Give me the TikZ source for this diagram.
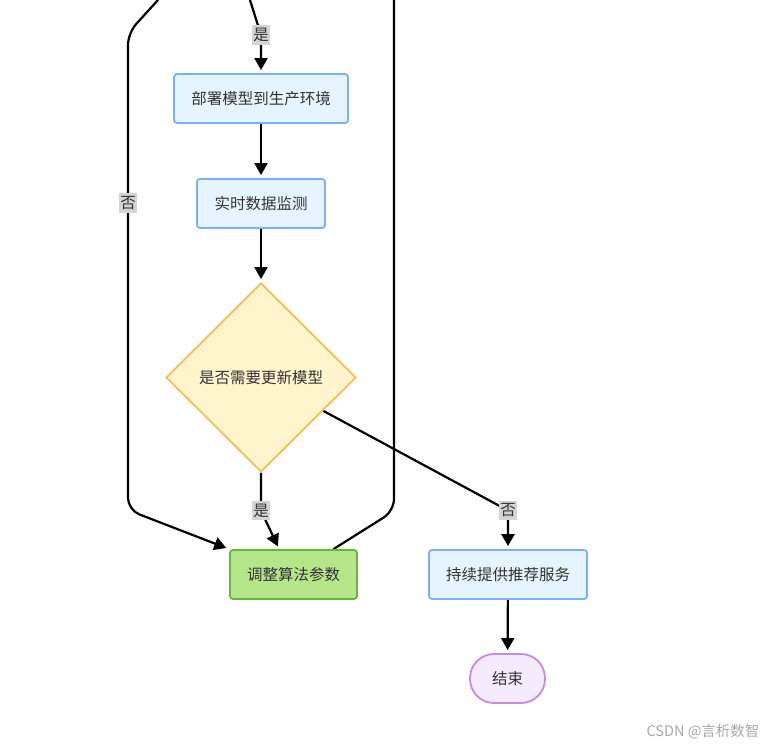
\documentclass[tikz,border=0pt]{standalone}
\usepackage{fontspec}
\setmainfont{Noto Sans CJK SC}
\usetikzlibrary{shapes.geometric,arrows.meta,calc,backgrounds}
\definecolor{txt}{HTML}{333333}
\definecolor{bluefill}{HTML}{E6F4FF}
\definecolor{bluedraw}{HTML}{7DAEF8}
\definecolor{yelfill}{HTML}{FFF4CC}
\definecolor{yeldraw}{HTML}{F7BE55}
\definecolor{grnfill}{HTML}{B5E68A}
\definecolor{grndraw}{HTML}{6BB33C}
\definecolor{purfill}{HTML}{F5EBFF}
\definecolor{purdraw}{HTML}{C28BE8}
\definecolor{lblgray}{HTML}{D4D4D4}
\definecolor{wmgray}{HTML}{A8A8A8}
\begin{document}
\begin{tikzpicture}[x=1pt,y=-1pt,
  every node/.style={font=\fontsize{15.5}{18}\selectfont, text=txt},
  proc/.style={draw=bluedraw, fill=bluefill, line width=1.8pt, rounded corners=3pt, minimum height=49pt, inner sep=0pt},
  adjbox/.style={draw=grndraw, fill=grnfill, line width=1.8pt, rounded corners=3pt, minimum height=49pt, inner sep=0pt},
  decbox/.style={diamond, aspect=1, draw=yeldraw, fill=yelfill, line width=1.8pt, minimum width=190pt, minimum height=189pt, inner sep=0pt},
  endbox/.style={draw=purdraw, fill=purfill, line width=1.8pt, rounded corners=24pt, minimum height=49pt, minimum width=75pt, inner sep=0pt},
  lbl/.style={fill=lblgray, inner xsep=0.8pt, inner ysep=3pt},
  conn/.style={line width=2.2pt, black},
  arr/.style={conn, -{Triangle[length=12pt,width=13pt]}, shorten >=3pt}
]
\useasboundingbox (0,0) rectangle (772,746);
\coordinate (t1) at (250,0);
\coordinate (t2) at (158,0);
\coordinate (t3) at (394,0);
\node[proc, minimum width=174pt] (deploy) at (261,98.5) {部署模型到生产环境};
\node[proc, minimum width=128pt] (mon) at (261,203.5) {实时数据监测};
\node[decbox] (dec) at (261,377.5) {是否需要更新模型};
\node[adjbox, minimum width=127pt] (adj) at (293.5,574.5) {调整算法参数};
\node[proc, minimum width=158pt] (cont) at (508,574.5) {持续提供推荐服务};
\node[endbox] (end) at (507.5,678.5) {结束};
\node[lbl] (ly1) at (261,35) {是};
\node[lbl] (ln1) at (128,203) {否};
\node[lbl] (ly2) at (261,510.5) {是};
\node[lbl] (ln2) at (508,510.5) {否};
\node[font=\fontsize{14.5}{16}\selectfont, text=wmgray] (wm) at (703,732) {CSDN @言析数智};
\begin{scope}[on background layer]
\draw[arr] (t1) -- (ly1.center) -- (deploy.north);
\draw[arr] (deploy) -- (mon);
\draw[arr] (mon) -- (dec.north);
\draw[arr, rounded corners=12pt] (t2) -- (128,33) -- (ln1.center) -- (128,510) -- (adj.north west);
\draw[conn, rounded corners=12pt] ($(adj.north)+(40,0)$) -- (394,511) -- (t3);
\draw[arr] (dec.south) -- (ly2.center) -- ($(adj.north west)+(50,0)$);
\draw[arr] ($(dec.east)!0.35!(dec.south)$) -- (ln2.center) -- (cont.north);
\draw[arr] (cont) -- (end);
\end{scope}
\end{tikzpicture}
\end{document}
